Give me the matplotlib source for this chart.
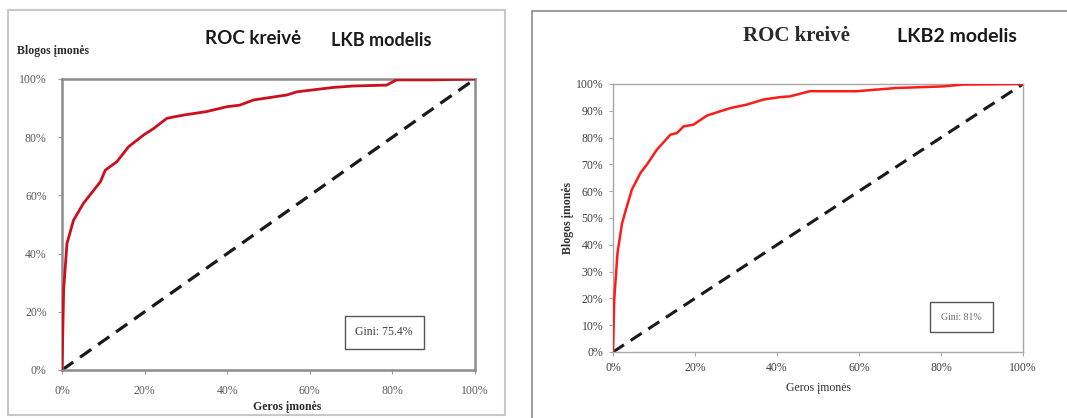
import matplotlib
matplotlib.use('Agg')
import matplotlib.pyplot as plt
from matplotlib.patches import Rectangle

# =========================
# data (values in %)
# =========================
lkb_x = [0, 0.4, 1.2, 2.8, 5.2, 9.3, 10.5, 13.3, 16.1, 19.8, 22.2, 25.4, 29.4, 35, 40, 43,
         46.4, 54.4, 56.9, 65.7, 70.6, 78.6, 81, 90, 100]
lkb_y = [0, 27.5, 43.5, 51.5, 57.3, 64.7, 68.7, 71.6, 76.7, 80.8, 83, 86.5, 87.6, 88.8, 90.5, 91,
         92.8, 94.5, 95.6, 97.1, 97.6, 97.9, 99.7, 99.7, 100]

lkb2_x = [0, 0.3, 1.1, 2.2, 3.4, 4.6, 6.7, 8.3, 10.7, 14, 15.6, 17.2, 19.6, 22.9, 26.1, 28.6,
          32.6, 36.7, 40.7, 43.2, 48, 59.4, 69, 80.5, 85.4, 100]
lkb2_y = [0, 19.5, 37, 48, 54.4, 60.6, 66.8, 70, 75.5, 81.1, 81.7, 84.2, 84.8, 88.2, 89.8, 91,
          92.3, 94.2, 95.1, 95.4, 97.3, 97.3, 98.5, 99.1, 99.8, 100]

diag = [0, 100]

left_yticks = [0, 20, 40, 60, 80, 100]
right_yticks = [0, 10, 20, 30, 40, 50, 60, 70, 80, 90, 100]
xticks = [0, 20, 40, 60, 80, 100]

gini_left = 'Gini: 75.4%'
gini_right = 'Gini: 81%'

W, H = 1067, 418
fig = plt.figure(figsize=(W / 100, H / 100), dpi=100)
fig.patch.set_facecolor('white')


def px_axes(x0, y0, x1, y1):
    # pixel box (top-left origin) -> axes
    return fig.add_axes([x0 / W, 1 - y1 / H, (x1 - x0) / W, (y1 - y0) / H])


def pct(vals):
    return [f'{v}%' for v in vals]


serif = 'Liberation Serif'
sans = 'Lato'

# outer frames
fig.add_artist(Rectangle((8 / W, 1 - 415 / H), 497 / W, 405 / H, transform=fig.transFigure,
                         fill=False, edgecolor='#c8c8c8', linewidth=1.5))
fig.add_artist(Rectangle((532 / W, -0.05), 1.0, 1 - 11 / H + 0.05, transform=fig.transFigure,
                         fill=False, edgecolor='#8a8a8a', linewidth=1.2))

# =========================
# left panel: LKB
# =========================
ax = px_axes(62, 79, 475, 370)
ax.plot(lkb_x, lkb_y, color='#cc0f1c', linewidth=2.0, zorder=3)
ax.plot(diag, diag, color='#1a1a1a', linewidth=2.3, linestyle=(0, (4.3, 2.6)), zorder=2)
ax.set_xlim(0, 100)
ax.set_ylim(0, 100)
ax.set_xticks(xticks)
ax.set_xticklabels(pct(xticks))
ax.set_yticks(left_yticks)
ax.set_yticklabels(pct(left_yticks))
for spine in ax.spines.values():
    spine.set_color('#8c8c8c')
    spine.set_linewidth(1.8)
ax.tick_params(direction='out', length=3, width=0.8, color='#9a9a9a',
               labelsize=8.5, labelcolor='#5a5a5a', pad=8)
for lab in ax.get_xticklabels() + ax.get_yticklabels():
    lab.set_fontfamily(serif)
ax.text(0.78, 0.13, gini_left, transform=ax.transAxes, ha='center', va='center',
        fontsize=8.5, family=serif, color='#404040',
        bbox=dict(boxstyle='square,pad=0.9', facecolor='white', edgecolor='#555555', linewidth=1.0))

fig.text(205 / W, 1 - 38 / H, 'ROC kreivė', fontsize=13.5, family=sans, fontweight='bold',
         color='#1a1a1a', ha='left', va='center')
fig.text(331 / W, 1 - 40 / H, 'LKB modelis', fontsize=13, family=sans, fontweight='bold',
         color='#1a1a1a', ha='left', va='center')
fig.text(17 / W, 1 - 51 / H, 'Blogos įmonės', fontsize=8.5, family=serif, fontweight='bold',
         color='#2a2a2a', ha='left', va='center')
fig.text(287 / W, 1 - 407 / H, 'Geros įmonės', fontsize=8.5, family=serif, fontweight='bold',
         color='#2a2a2a', ha='center', va='center')

# =========================
# right panel: LKB2
# =========================
ax2 = px_axes(613, 84, 1023, 352)
ax2.plot(lkb2_x, lkb2_y, color='#ff1a1a', linewidth=1.8, zorder=3)
ax2.plot(diag, diag, color='#1a1a1a', linewidth=2.2, linestyle=(0, (4.3, 2.6)), zorder=2)
ax2.set_xlim(0, 100)
ax2.set_ylim(0, 100)
ax2.set_xticks(xticks)
ax2.set_xticklabels(pct(xticks))
ax2.set_yticks(right_yticks)
ax2.set_yticklabels(pct(right_yticks))
for spine in ax2.spines.values():
    spine.set_color('#a8a8a8')
    spine.set_linewidth(1.0)
ax2.tick_params(direction='out', length=3, width=0.8, color='#a8a8a8',
                labelsize=8.5, labelcolor='#404040', pad=4)
for lab in ax2.get_xticklabels() + ax2.get_yticklabels():
    lab.set_fontfamily(serif)
ax2.text(0.85, 0.13, gini_right, transform=ax2.transAxes, ha='center', va='center',
         fontsize=7, family=serif, color='#707070',
         bbox=dict(boxstyle='square,pad=1.1', facecolor='white', edgecolor='#555555', linewidth=1.0))
ax2.set_xlabel('Geros įmonės', fontsize=8.5, family=serif, color='#303030', labelpad=6)
ax2.set_ylabel('Blogos įmonės', fontsize=8.5, family=serif, fontweight='bold',
               color='#303030', labelpad=1)

fig.text(743 / W, 1 - 36 / H, 'ROC kreivė', fontsize=15, family=serif, fontweight='bold',
         color='#2a2a2a', ha='left', va='center')
fig.text(897 / W, 1 - 37 / H, 'LKB2 modelis', fontsize=14, family=sans, fontweight='bold',
         color='#1a1a1a', ha='left', va='center')

fig.savefig('out.png', dpi=100, facecolor='white')
